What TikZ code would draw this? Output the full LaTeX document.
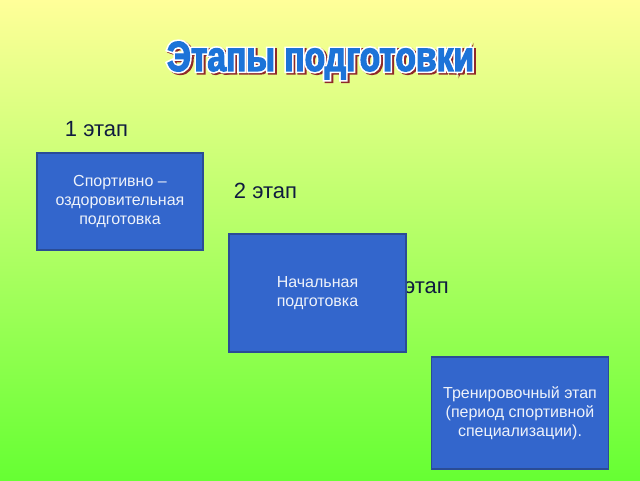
\documentclass[tikz,border=0pt]{standalone}
\usepackage{fontspec}
\setmainfont{Liberation Sans}
\newfontfamily\titlefont[FakeStretch=0.8]{Liberation Sans}
\usepackage{tikz}

\definecolor{bgtop}{HTML}{FFFF99}
\definecolor{bgbottom}{HTML}{66FF33}
\definecolor{boxblue}{HTML}{3366CC}
\definecolor{boxedge}{HTML}{2A4C96}
\definecolor{boxtext}{HTML}{EEF2FA}
\definecolor{labeltext}{HTML}{0F1B3F}
\definecolor{titleblue}{HTML}{1C74D8}
\definecolor{titleshadow}{HTML}{8E2A2A}

% outlined letters: fill and stroke, #1 = stroke width, #2 = stroke rgb
\newcommand{\outlined}[3]{\special{pdf:literal direct 2 Tr #1 w #2 RG}#3\special{pdf:literal direct 0 Tr}}

\begin{document}
\begin{tikzpicture}[x=1pt,y=1pt,
    stage box/.style={rectangle,draw=boxedge,line width=1.2pt,fill=boxblue,
                      text=boxtext,align=center,inner sep=0pt,
                      font=\fontsize{16}{19}\selectfont},
    stage label/.style={text=labeltext,inner sep=0pt,
                        font=\fontsize{22}{26}\selectfont},
    title text/.style={inner sep=0pt,font=\titlefont\bfseries\fontsize{42}{46}\selectfont}]

  \useasboundingbox (0,0) rectangle (640,480);
  \shade[top color=bgtop,bottom color=bgbottom] (0,0) rectangle (640,480);

  % title: shadow, white outline, blue letters
  \node[title text,text=titleshadow] (shadow) at (322.5,418)
    {\outlined{4.5}{0.56 0.16 0.16}{Этапы подготовки}};
  \node[title text,text=white] (outline) at (320.5,419.5)
    {\outlined{4.5}{1 1 1}{Этапы подготовки}};
  \node[title text,text=titleblue] (title) at (320.5,419.5)
    {\outlined{1.2}{0.11 0.45 0.85}{Этапы подготовки}};

  \node[stage label] (label1) at (96.5,351) {1 этап};
  \node[stage label] (label2) at (265.5,289) {2 этап};
  \node[stage label,anchor=west] (label3) at (385.5,194) {3 этап};

  \node[stage box,minimum width=166,minimum height=97] (sport) at (120,278.5)
    {Спортивно –\\оздоровительная\\подготовка};
  \node[stage box,minimum width=177,minimum height=118] (initial) at (317.5,187)
    {Начальная\\подготовка};
  \node[stage box,minimum width=177,minimum height=112] (training) at (520,67)
    {Тренировочный этап\\(период спортивной\\специализации).};
\end{tikzpicture}
\end{document}
